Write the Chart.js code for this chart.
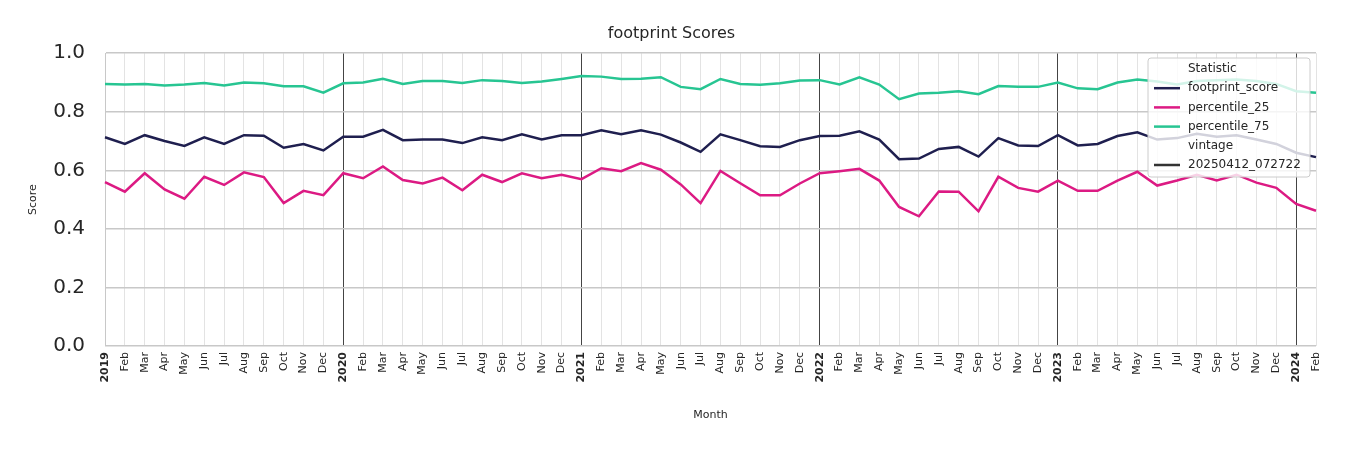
<!DOCTYPE html>
<html>
<head>
<meta charset="utf-8">
<script src="https://cdn.jsdelivr.net/npm/chart.js@4"></script>
<style>
  body { margin: 0; background: #fff; }
  #wrap { width: 1350px; height: 450px; }
</style>
</head>
<body>
<div id="wrap"><canvas id="chart"></canvas></div>
<script>
var monthNames = ['Jan','Feb','Mar','Apr','May','Jun','Jul','Aug','Sep','Oct','Nov','Dec'];
var years = [2019, 2020, 2021, 2022, 2023, 2024];
var labels = [];
years.forEach(function (y) {
    monthNames.forEach(function (m, i) {
        if (y === 2024 && i > 1) return;
        labels.push(i === 0 ? String(y) : m);
    });
});

var footprintScore = [
    0.713, 0.69, 0.72, 0.70, 0.683, 0.713, 0.69, 0.72, 0.718, 0.677, 0.69, 0.668,
    0.715, 0.715, 0.738, 0.703, 0.705, 0.705, 0.693, 0.713, 0.703, 0.723, 0.705, 0.72,
    0.72, 0.737, 0.723, 0.737, 0.722, 0.695, 0.663, 0.723, 0.703, 0.682, 0.68, 0.703,
    0.717, 0.718, 0.733, 0.705, 0.638, 0.64, 0.673, 0.68, 0.647, 0.71, 0.685, 0.683,
    0.72, 0.685, 0.69, 0.717, 0.73, 0.705, 0.71, 0.725, 0.715, 0.72, 0.705, 0.69,
    0.66, 0.645
];
var percentile25 = [
    0.56, 0.527, 0.59, 0.535, 0.503, 0.578, 0.55, 0.593, 0.577, 0.488, 0.53, 0.515,
    0.59, 0.573, 0.613, 0.567, 0.555, 0.575, 0.532, 0.585, 0.56, 0.59, 0.573, 0.585,
    0.57, 0.607, 0.597, 0.625, 0.602, 0.552, 0.488, 0.598, 0.556, 0.515, 0.515, 0.555,
    0.59, 0.597, 0.605, 0.565, 0.475, 0.443, 0.528, 0.527, 0.46, 0.578, 0.54, 0.527,
    0.565, 0.53, 0.53, 0.565, 0.595, 0.548, 0.565, 0.585, 0.565, 0.585, 0.558, 0.54,
    0.485, 0.462
];
var percentile75 = [
    0.895, 0.893, 0.895, 0.89, 0.893, 0.898, 0.89, 0.9, 0.897, 0.887, 0.887, 0.865,
    0.897, 0.9, 0.913, 0.895, 0.905, 0.905, 0.898, 0.908, 0.905, 0.898, 0.903, 0.912,
    0.922, 0.92, 0.912, 0.913, 0.918, 0.885, 0.877, 0.912, 0.895, 0.892, 0.897, 0.907,
    0.908, 0.893, 0.918, 0.893, 0.843, 0.862, 0.865, 0.87, 0.86, 0.888, 0.885, 0.885,
    0.9, 0.88, 0.877, 0.9, 0.91, 0.903, 0.893, 0.905, 0.908, 0.91, 0.905, 0.895,
    0.87, 0.865
];
var yTicks = [0, 0.2, 0.4, 0.6, 0.8, 1.0];

var colors = { score: '#1f1f4f', p25: '#dc1a83', p75: '#27c592' };
var isYear = function (i) { return /^\d{4}$/.test(labels[i]); };

// legend drawn by hand: seaborn-style with sub headers
var legendPlugin = {
    id: 'seabornLegend',
    afterDraw: function (chart) {
        var c = chart.ctx;
        var x = 1148, y = 58, w = 162, h = 119;
        c.save();
        c.fillStyle = 'rgba(255,255,255,0.8)';
        c.strokeStyle = '#cccccc';
        c.lineWidth = 1;
        c.beginPath();
        c.roundRect(x, y, w, h, 3);
        c.fill();
        c.stroke();
        c.font = '12px "DejaVu Sans"';
        c.textBaseline = 'middle';
        var rows = [
            ['Statistic', null],
            ['footprint_score', colors.score],
            ['percentile_25', colors.p25],
            ['percentile_75', colors.p75],
            ['vintage', null],
            ['20250412_072722', '#333333']
        ];
        rows.forEach(function (r, i) {
            var ry = y + 11 + i * 19.2;
            if (r[1]) {
                c.strokeStyle = r[1];
                c.lineWidth = 2.5;
                c.beginPath();
                c.moveTo(x + 6, ry);
                c.lineTo(x + 32, ry);
                c.stroke();
            }
            c.fillStyle = '#262626';
            c.fillText(r[0], x + 40, ry);
        });
        c.restore();
    }
};

new Chart(document.getElementById('chart').getContext('2d'), {
    type: 'line',
    data: {
        labels: labels,
        datasets: [
            { label: 'footprint_score', data: footprintScore, borderColor: colors.score },
            { label: 'percentile_25', data: percentile25, borderColor: colors.p25 },
            { label: 'percentile_75', data: percentile75, borderColor: colors.p75 }
        ]
    },
    options: {
        responsive: true,
        maintainAspectRatio: false,
        animation: false,
        layout: { padding: { left: 27, right: 34, top: 0, bottom: 0 } },
        elements: {
            point: { radius: 0 },
            line: { borderWidth: 2.5, tension: 0 }
        },
        plugins: {
            legend: { display: false },
            tooltip: { enabled: false },
            title: {
                display: true,
                text: 'footprint Scores',
                color: '#262626',
                font: { family: 'DejaVu Sans', size: 16, weight: 'normal' },
                padding: { top: 24, bottom: 10 }
            }
        },
        scales: {
            x: {
                offset: false,
                afterFit: function (s) { s.height = 104; },
                grid: {
                    color: function (ctx) { return isYear(ctx.index) ? '#444444' : '#e3e3e3'; },
                    lineWidth: 1,
                    drawTicks: false
                },
                border: { display: false },
                ticks: {
                    autoSkip: false,
                    maxRotation: 90,
                    minRotation: 90,
                    padding: 6,
                    color: '#262626',
                    font: function (ctx) {
                        return { family: 'DejaVu Sans', size: 11, weight: isYear(ctx.index) ? 'bold' : 'normal' };
                    }
                },
                title: {
                    display: true,
                    text: 'Month',
                    color: '#262626',
                    font: { family: 'DejaVu Sans', size: 11 },
                    padding: { top: 2, bottom: 28 }
                }
            },
            y: {
                min: 0,
                max: 1,
                afterFit: function (s) { s.width = 78; },
                afterBuildTicks: function (s) { s.ticks = yTicks.map(function (v) { return { value: v }; }); },
                grid: { color: '#c8c8c8', lineWidth: 1.5, drawTicks: false },
                border: { display: true, color: '#c8c8c8', width: 1 },
                ticks: {
                    padding: 20,
                    color: '#262626',
                    font: { family: 'DejaVu Sans', size: 20 },
                    callback: function (v) { return v.toFixed(1); }
                },
                title: {
                    display: true,
                    text: 'Score',
                    color: '#262626',
                    font: { family: 'DejaVu Sans', size: 11 },
                    padding: { top: 0, bottom: 6 }
                }
            }
        }
    },
    plugins: [legendPlugin]
});
</script>
</body>
</html>
